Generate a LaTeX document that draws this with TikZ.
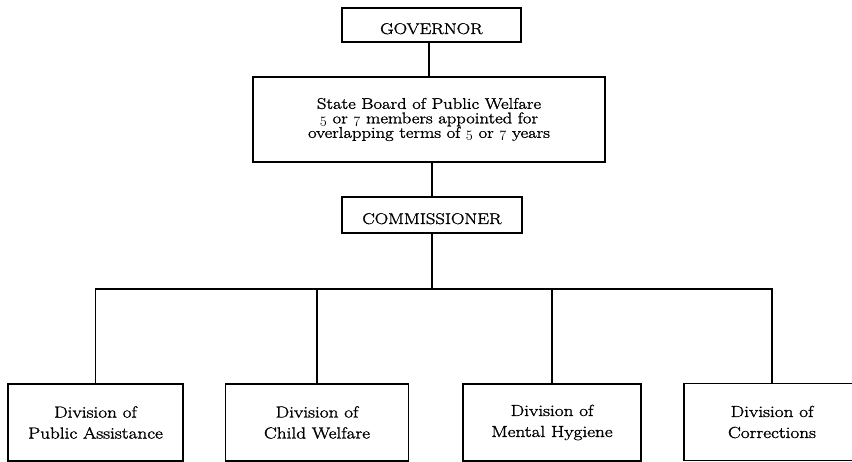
\documentclass[tikz,border=0pt]{standalone}
\usepackage{fontspec}
\setmainfont{Latin Modern Roman}[FakeStretch=1.2, FakeBold=1.6]
% old-style figures taken from the math italic font
\newcommand{\osf}[1]{{\usefont{OML}{cmm}{m}{it}#1}}
\begin{document}
\begin{tikzpicture}[x=1pt,y=1pt,
  box/.style={draw, line width=1.6pt, rectangle, inner sep=0pt, align=center,
              font=\fontsize{16}{21}\selectfont},
  capsbox/.style={box, font=\fontsize{15.5}{18}\selectfont, text height=18pt, text depth=0pt},
  link/.style={line width=1.6pt}]
\useasboundingbox (0,0) rectangle (852,-462);
\clip (0,0) rectangle (852,-462);

% top of the chain
\node[capsbox, minimum width=179, minimum height=34] (gov) at (431.5,-25) {GOVERNOR};
\node[box, minimum width=352, minimum height=85,
      font=\fontsize{15.5}{14.5}\selectfont] (board) at (429,-119.5)
  {State Board of Public Welfare\\
   \osf{5} or \osf{7} members appointed for\\
   overlapping terms of \osf{5} or \osf{7} years};
\node[capsbox, minimum width=180, minimum height=36] (com) at (432,-215) {COMMISSIONER};

% divisions
\node[box, minimum width=175, minimum height=77] (d1) at (95.5,-422.5) {Division of\\Public Assistance};
\node[box, minimum width=183, minimum height=77] (d2) at (317,-422.5) {Division of\\Child Welfare};
\node[box, minimum width=178, minimum height=77] (d3) at (552,-422.5) {Division of\\Mental Hygiene};
\node[box, minimum width=176, minimum height=77] (d4) at (772,-422) {Division of\\Corrections};

% branch line
\coordinate (bus) at (0,-289);

\draw[link] (gov.south -| board.north) -- (board.north);
\draw[link] (board.south -| com.north) -- (com.north);
\draw[link] (com.south) -- (com.south |- bus);
\draw[link] (d1.north) -- (d1.north |- bus) -- (d4.north |- bus) -- (d4.north);
\draw[link] (d2.north) -- (d2.north |- bus);
\draw[link] (d3.north) -- (d3.north |- bus);
\end{tikzpicture}
\end{document}
